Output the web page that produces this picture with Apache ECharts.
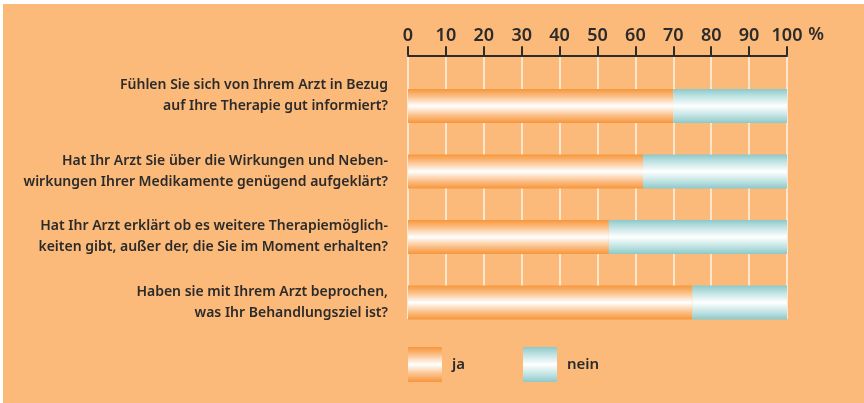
<!DOCTYPE html>
<html>
<head>
<meta charset="utf-8">
<script src="https://cdn.jsdelivr.net/npm/echarts@6/dist/echarts.min.js"></script>
<style>
html,body{margin:0;padding:0;background:#ffffff;}
#chart{width:864px;height:403px;}
</style>
</head>
<body>
<div id="chart"></div>
<script>
var categories = [
  'Fühlen Sie sich von Ihrem Arzt in Bezug\nauf Ihre Therapie gut informiert?',
  'Hat Ihr Arzt Sie über die Wirkungen und Neben-\nwirkungen Ihrer Medikamente genügend aufgeklärt?',
  'Hat Ihr Arzt erklärt ob es weitere Therapiemöglich-\nkeiten gibt, außer der, die Sie im Moment erhalten?',
  'Haben sie mit Ihrem Arzt beprochen,\nwas Ihr Behandlungsziel ist?'
];
var seriesNames = ['ja', 'nein'];
var jaValues = [70, 62, 53, 75];
var neinValues = [30, 38, 47, 25];
var axisMin = 0, axisMax = 100, axisInterval = 10;

function grad(edge, mid) {
  return new echarts.graphic.LinearGradient(0, 0, 0, 1, [
    {offset: 0, color: edge},
    {offset: 0.22, color: mid},
    {offset: 0.5, color: '#ffffff'},
    {offset: 0.78, color: mid},
    {offset: 1, color: edge}
  ]);
}
var orangeGrad = grad('#f7963a', '#fbc089');
var tealGrad = grad('#8cc9ca', '#c2e3e3');

var font = '"Noto Sans", sans-serif';
var textColor = '#2b2b2b';
var chart = echarts.init(document.getElementById('chart'));
chart.setOption({
  animation: false,
  backgroundColor: '#ffffff',
  graphic: [{
    type: 'rect', z: -100, silent: true,
    shape: {x: 3, y: 4, width: 861, height: 399},
    style: {fill: '#fbb97a'}
  }],
  grid: [
    {left: 408, right: 77, top: 73.25, bottom: 67.75},
    {left: 408, right: 77, top: 55, bottom: 84}
  ],
  legend: {
    left: 403, top: 342,
    itemWidth: 34, itemHeight: 35, itemGap: 58,
    icon: 'rect',
    textStyle: {color: textColor, fontSize: 15, fontFamily: font, fontWeight: 600, padding: [0, 0, 0, 5]},
    data: seriesNames
  },
  xAxis: [{
    type: 'value', gridIndex: 0, position: 'top', offset: 18,
    min: axisMin, max: axisMax, interval: axisInterval,
    name: '%', nameLocation: 'end', nameGap: 16,
    nameTextStyle: {color: textColor, fontSize: 18, fontFamily: font, fontWeight: 600, verticalAlign: 'bottom', padding: [0, 0, 11, 0]},
    axisLine: {show: true, lineStyle: {color: textColor, width: 2}},
    axisTick: {show: true, inside: false, length: 9, lineStyle: {color: textColor, width: 2}},
    axisLabel: {show: true, color: textColor, fontSize: 18, fontFamily: font, fontWeight: 600, margin: 10},
    splitLine: {show: false}
  }, {
    type: 'value', gridIndex: 1, position: 'top',
    min: axisMin, max: axisMax, interval: axisInterval,
    axisLine: {show: false}, axisTick: {show: false}, axisLabel: {show: false},
    splitLine: {show: true, lineStyle: {color: '#fee6cc', width: 2}}
  }],
  yAxis: [{
    type: 'category', gridIndex: 0, inverse: true,
    data: categories,
    axisLine: {show: false}, axisTick: {show: false},
    axisLabel: {
      color: textColor, fontSize: 14, fontFamily: font, fontWeight: 600,
      lineHeight: 21, align: 'right', margin: 20,
      formatter: function (v, i) { return i === 0 ? v + '\n ' : v; }
    }
  }, {
    type: 'value', gridIndex: 1, show: false, min: 0, max: 1
  }],
  series: [{
    name: seriesNames[0], type: 'bar', stack: 'a', barWidth: 34,
    xAxisIndex: 0, yAxisIndex: 0,
    itemStyle: {color: orangeGrad},
    data: jaValues
  }, {
    name: seriesNames[1], type: 'bar', stack: 'a', barWidth: 34,
    xAxisIndex: 0, yAxisIndex: 0,
    itemStyle: {color: tealGrad},
    data: neinValues
  }]
});
</script>
</body>
</html>
